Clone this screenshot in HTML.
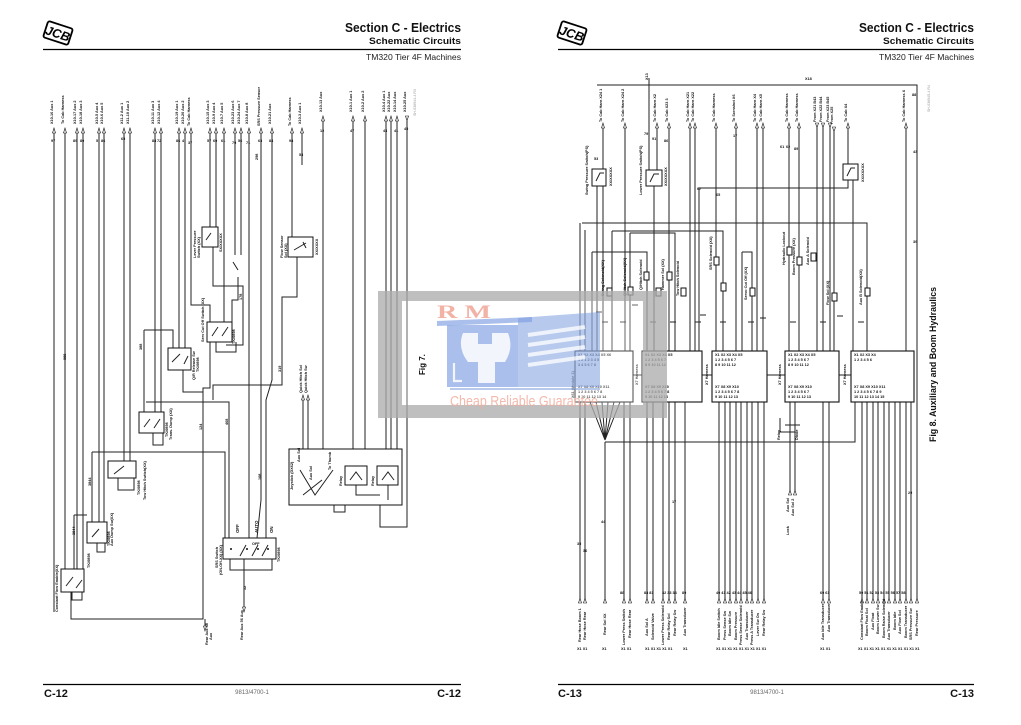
<!DOCTYPE html>
<html><head><meta charset="utf-8"><style>
html,body{margin:0;padding:0;background:#fff;}
svg{display:block;}
.t{font-family:"Liberation Sans",sans-serif;font-weight:bold;font-size:3.8px;fill:#111;}
.s{font-family:"Liberation Sans",sans-serif;font-weight:bold;font-size:4.4px;fill:#111;}
.ln{stroke:#222;stroke-width:1;fill:none;}
.bx{stroke:#111;stroke-width:1;fill:#fff;}
.ar{stroke:#111;stroke-width:0.6;fill:#fff;}
</style></head><body>
<svg width="1021" height="725" viewBox="0 0 1021 725" xmlns="http://www.w3.org/2000/svg">
<rect width="1021" height="725" fill="#fff"/>

<!-- ===== HEADERS ===== -->
<g transform="translate(58,33) rotate(18)">
<rect x="-13" y="-8.5" width="26" height="17" rx="2" fill="#fff" stroke="#000" stroke-width="1.8"/>
<text x="0" y="5" text-anchor="middle" font-family="Liberation Sans,sans-serif" font-weight="bold" font-style="italic" font-size="12.5" fill="#000">JCB</text>
</g>
<text x="461" y="32" text-anchor="end" font-family="Liberation Sans,sans-serif" font-weight="bold" font-size="13" textLength="116" lengthAdjust="spacingAndGlyphs" fill="#111">Section C - Electrics</text>
<text x="461" y="44" text-anchor="end" font-family="Liberation Sans,sans-serif" font-weight="bold" font-size="9.5" textLength="92" lengthAdjust="spacingAndGlyphs" fill="#111">Schematic Circuits</text>
<line x1="43" y1="49.5" x2="461" y2="49.5" stroke="#000" stroke-width="1.3"/>
<text x="461" y="60" text-anchor="end" font-family="Liberation Sans,sans-serif" font-size="8.2" textLength="95" lengthAdjust="spacingAndGlyphs" fill="#222">TM320 Tier 4F Machines</text>

<g transform="translate(572,33) rotate(18)">
<rect x="-13" y="-8.5" width="26" height="17" rx="2" fill="#fff" stroke="#000" stroke-width="1.8"/>
<text x="0" y="5" text-anchor="middle" font-family="Liberation Sans,sans-serif" font-weight="bold" font-style="italic" font-size="12.5" fill="#000">JCB</text>
</g>
<text x="974" y="32" text-anchor="end" font-family="Liberation Sans,sans-serif" font-weight="bold" font-size="13" textLength="115" lengthAdjust="spacingAndGlyphs" fill="#111">Section C - Electrics</text>
<text x="974" y="44" text-anchor="end" font-family="Liberation Sans,sans-serif" font-weight="bold" font-size="9.5" textLength="91" lengthAdjust="spacingAndGlyphs" fill="#111">Schematic Circuits</text>
<line x1="558" y1="49.5" x2="974" y2="49.5" stroke="#000" stroke-width="1.3"/>
<text x="974" y="60" text-anchor="end" font-family="Liberation Sans,sans-serif" font-size="8.2" textLength="95" lengthAdjust="spacingAndGlyphs" fill="#222">TM320 Tier 4F Machines</text>

<!-- ===== FOOTERS ===== -->
<line x1="43" y1="684.5" x2="461" y2="684.5" stroke="#000" stroke-width="1.2"/>
<text x="44" y="697" font-family="Liberation Sans,sans-serif" font-weight="bold" font-size="11" fill="#111">C-12</text>
<text x="461" y="697" text-anchor="end" font-family="Liberation Sans,sans-serif" font-weight="bold" font-size="11" fill="#111">C-12</text>
<text x="252" y="694" text-anchor="middle" font-family="Liberation Sans,sans-serif" font-size="6" fill="#666">9813/4700-1</text>

<line x1="558" y1="684.5" x2="974" y2="684.5" stroke="#000" stroke-width="1.2"/>
<text x="558" y="697" font-family="Liberation Sans,sans-serif" font-weight="bold" font-size="11" fill="#111">C-13</text>
<text x="974" y="697" text-anchor="end" font-family="Liberation Sans,sans-serif" font-weight="bold" font-size="11" fill="#111">C-13</text>
<text x="767" y="694" text-anchor="middle" font-family="Liberation Sans,sans-serif" font-size="6" fill="#666">9813/4700-1</text>

<!-- doc codes -->
<text transform="translate(416,116) rotate(-90)" font-family="Liberation Sans,sans-serif" font-size="3.6" fill="#999">SH-036944-4 R3</text>
<text transform="translate(930,112) rotate(-90)" font-family="Liberation Sans,sans-serif" font-size="3.6" fill="#999">SH-036945-4 R4</text>

<!-- ===== LEFT PAGE WIRING ===== -->
<path class="ln" d="
M54 133V612
M65 133V569
M77 133V569
M83 133V569
M99 133V522
M104 133V522
M124 133V461
M130 133V461
M155 133V412
M161 133V412
M179 133V348
M185 133V348
M191 133V305H210V388H203V619H71V592
M210 133V227
M216 133V227
M224 133V322
M235 133V255
M241 133V255
M249 133V538
M261 133V500L257 538
M272 133V380L266 400V538
M292 133V237
M302 133V165
M323 121V449
M353 121V449
M365 121V449
M386 121V449
M391 121V449
M397 121V449
M407 121V527H380V505
M297 257V297H282V385H213V400
M213 247V286H243V345H226
M238 277V300H232V322
M216 342V352H236V342
M183 370V392H203
M144 330H173V348
M144 330V412
M146 402H229V538
M92 452H225V538
M92 452V522
M74 515H87
M74 515V569
M153 433V445H163V433
M118 478V490H134V478
M97 543V552H105V543
M72 592V600H82V592
M230 559V570H272V559
M244 559V612
M205 619V630
M303 400V449
M308 400V449
M300 470L315 495L333 470
M303 495L322 480
M334 505V512H345V505
M356 485V495H380
M388 485V500
"/>
<!-- left page boxes -->
<rect class="bx" x="202" y="227" width="16" height="20"/>
<rect class="bx" x="288" y="237" width="25" height="20"/>
<rect class="bx" x="207" y="322" width="25" height="20"/>
<rect class="bx" x="168" y="348" width="23" height="22"/>
<rect class="bx" x="139" y="412" width="25" height="21"/>
<rect class="bx" x="108" y="461" width="28" height="17"/>
<rect class="bx" x="87" y="522" width="20" height="21"/>
<rect class="bx" x="61" y="569" width="23" height="23"/>
<rect class="bx" x="223" y="538" width="53" height="21"/>
<rect x="289" y="449" width="113" height="56" fill="none" stroke="#111" stroke-width="1"/>
<rect class="bx" x="345" y="466" width="22" height="19"/>
<rect class="bx" x="377" y="466" width="21" height="19"/>
<!-- switch symbols inside boxes -->
<path class="ln" d="M206 240L211 233M294 250L306 243M303 242L306 248M212 336L218 327M222 336L228 327M172 362L180 354M184 364L188 356M144 427L150 419M154 428L160 419M114 474L124 466M92 537L99 529M66 586L73 577M76 588L82 580M240 556L246 545M252 556L258 545M262 556L268 545M350 480L356 472L362 480M382 480L388 472L394 480M233 262L238 270"/>
<g fill="#111">
<circle cx="231" cy="549" r="1"/><circle cx="247" cy="549" r="1"/><circle cx="258" cy="549" r="1"/><circle cx="268" cy="549" r="1"/>
</g>
<text transform="translate(252,545)" class="t">OFF</text>
<text transform="translate(258,533) rotate(-90)" class="s">AUTO</text>
<text transform="translate(239,533) rotate(-90)" class="s">OFF</text>
<text transform="translate(273,533) rotate(-90)" class="s">ON</text>

<!-- left page top arrows -->
<g class="ar">
<path d="M52.5 133L54 128L55.5 133Z"/><path d="M63.5 133L65 128L66.5 133Z"/><path d="M75.5 133L77 128L78.5 133Z"/><path d="M81.5 133L83 128L84.5 133Z"/>
<path d="M97.5 133L99 128L100.5 133Z"/><path d="M102.5 133L104 128L105.5 133Z"/><path d="M122.5 133L124 128L125.5 133Z"/><path d="M128.5 133L130 128L131.5 133Z"/>
<path d="M153.5 133L155 128L156.5 133Z"/><path d="M159.5 133L161 128L162.5 133Z"/><path d="M177.5 133L179 128L180.5 133Z"/><path d="M183.5 133L185 128L186.5 133Z"/>
<path d="M189.5 133L191 128L192.5 133Z"/><path d="M208.5 133L210 128L211.5 133Z"/><path d="M214.5 133L216 128L217.5 133Z"/><path d="M222.5 133L224 128L225.5 133Z"/>
<path d="M233.5 133L235 128L236.5 133Z"/><path d="M239.5 133L241 128L242.5 133Z"/><path d="M247.5 133L249 128L250.5 133Z"/><path d="M259.5 133L261 128L262.5 133Z"/>
<path d="M270.5 133L272 128L273.5 133Z"/><path d="M290.5 133L292 128L293.5 133Z"/><path d="M300.5 133L302 128L303.5 133Z"/>
<path d="M321.5 121L323 116L324.5 121Z"/><path d="M351.5 121L353 116L354.5 121Z"/><path d="M363.5 121L365 116L366.5 121Z"/>
<path d="M384.5 121L386 116L387.5 121Z"/><path d="M389.5 121L391 116L392.5 121Z"/><path d="M395.5 121L397 116L398.5 121Z"/><path d="M405.5 116L407 121L408.5 116Z"/>
<path d="M301.5 400L303 395L304.5 400Z"/><path d="M306.5 400L308 395L309.5 400Z"/>
<path d="M203.5 626L205 631L206.5 626Z"/><path d="M242.5 607L244 612L245.5 607Z"/>
</g>
<!-- left page top labels -->
<g class="t">
<text transform="translate(53,124) rotate(-90)">X10-16 Aux 1</text>
<text transform="translate(64,124) rotate(-90)">To Cab Harness</text>
<text transform="translate(76,124) rotate(-90)">X10-17 Aux 2</text>
<text transform="translate(82,124) rotate(-90)">X10-18 Aux 3</text>
<text transform="translate(98,124) rotate(-90)">X10-5 Aux 4</text>
<text transform="translate(103,124) rotate(-90)">X10-6 Aux 5</text>
<text transform="translate(123,124) rotate(-90)">X11-2 Aux 1</text>
<text transform="translate(129,124) rotate(-90)">X11-10 Aux 2</text>
<text transform="translate(154,124) rotate(-90)">X10-11 Aux 3</text>
<text transform="translate(160,124) rotate(-90)">X10-12 Aux 4</text>
<text transform="translate(178,124) rotate(-90)">X10-19 Aux 1</text>
<text transform="translate(184,124) rotate(-90)">X10-20 Aux 2</text>
<text transform="translate(190,126) rotate(-90)">To Cab Harness</text>
<text transform="translate(209,124) rotate(-90)">X10-15 Aux 3</text>
<text transform="translate(215,124) rotate(-90)">X10-9 Aux 4</text>
<text transform="translate(223,124) rotate(-90)">X10-7 Aux 5</text>
<text transform="translate(234,124) rotate(-90)">X10-23 Aux 6</text>
<text transform="translate(240,124) rotate(-90)">X10-24 Aux 7</text>
<text transform="translate(248,124) rotate(-90)">X10-8 Aux 8</text>
<text transform="translate(260,126) rotate(-90)">SRS Pressure Sensor</text>
<text transform="translate(271,124) rotate(-90)">X10-21 Aux</text>
<text transform="translate(291,126) rotate(-90)">To Cab Harness</text>
<text transform="translate(301,124) rotate(-90)">X10-3 Aux 1</text>
<text transform="translate(322,112) rotate(-90)">X10-13 Aux</text>
<text transform="translate(352,112) rotate(-90)">X10-1 Aux 1</text>
<text transform="translate(364,112) rotate(-90)">X10-2 Aux 2</text>
<text transform="translate(385,112) rotate(-90)">X10-4 Aux 1</text>
<text transform="translate(390,112) rotate(-90)">X10-22 Aux</text>
<text transform="translate(396,112) rotate(-90)">X10-14 Aux</text>
<text transform="translate(406,112) rotate(-90)">X10-25 Aux</text>
<text transform="translate(302,393) rotate(-90)">Quick Hitch Sol</text>
<text transform="translate(307,393) rotate(-90)">Quick Hitch Sw</text>
<text transform="translate(208,645) rotate(-90)">Rear Aux 48</text>
<text transform="translate(212,640) rotate(-90)">Aux</text>
<text transform="translate(243,640) rotate(-90)">Rear Aux 56 Aux</text>
</g>
<!-- left page wire numbers -->
<g class="t">
<text x="51" y="142">97</text><text x="73" y="142">89</text><text x="80" y="142">80</text><text x="96" y="142">5</text><text x="101" y="142">86</text>
<text x="121" y="140">65</text><text x="152" y="142">88</text><text x="157" y="142">72</text><text x="176" y="142">86</text><text x="182" y="142">4</text><text x="188" y="144">37</text>
<text x="207" y="142">57</text><text x="213" y="142">60</text><text x="221" y="142">61</text><text x="232" y="144">79</text><text x="238" y="142">56</text><text x="246" y="144">71</text><text x="258" y="142">63</text>
<text x="269" y="142">84</text><text x="289" y="142">98</text><text x="299" y="156">53</text><text x="320" y="132">12</text><text x="350" y="132">47</text><text x="383" y="132">43</text><text x="394" y="132">41</text><text x="404" y="130">45</text>
</g>
<g class="t">
<text transform="translate(66,360) rotate(-90)">988</text>
<text transform="translate(142,350) rotate(-90)">388</text>
<text transform="translate(242,300) rotate(-90)">178</text>
<text transform="translate(281,372) rotate(-90)">319</text>
<text transform="translate(258,160) rotate(-90)">298</text>
<text transform="translate(202,430) rotate(-90)">124</text>
<text transform="translate(228,425) rotate(-90)">468</text>
<text transform="translate(261,480) rotate(-90)">108</text>
<text transform="translate(246,590) rotate(-90)">52</text>
<text transform="translate(91,486) rotate(-90)">3844</text>
<text transform="translate(75,535) rotate(-90)">3844</text>
</g>
<!-- component labels -->
<g class="t">
<text transform="translate(58,612) rotate(-90)">Constant Flow Enable(XX)</text>
<text transform="translate(90,568) rotate(-90)">TK/0898</text>
<text transform="translate(113,546) rotate(-90)">Aux Dump Sw(XX)</text>
<text transform="translate(110,546) rotate(-90)">TK/0898</text>
<text transform="translate(140,495) rotate(-90)">TK/0898</text>
<text transform="translate(146,500) rotate(-90)">Tow Hitch Switch(XX)</text>
<text transform="translate(168,437) rotate(-90)">TK/0898</text>
<text transform="translate(172,440) rotate(-90)">Trans. Dump (XX)</text>
<text transform="translate(195,380) rotate(-90)">Q/R Release Sw</text>
<text transform="translate(199,372) rotate(-90)">TK/0898</text>
<text transform="translate(204,342) rotate(-90)">Serv Cut Off Switch (XX)</text>
<text transform="translate(235,344) rotate(-90)">TK/0898</text>
<text transform="translate(196,258) rotate(-90)">Lever Pressure</text>
<text transform="translate(200,258) rotate(-90)">Switch (XX)</text>
<text transform="translate(222,252) rotate(-90)">SX/XXXXX</text>
<text transform="translate(283,258) rotate(-90)">Flow Sensor</text>
<text transform="translate(287,258) rotate(-90)">Sol (XX)</text>
<text transform="translate(318,255) rotate(-90)">XX/XXXX</text>
<text transform="translate(218,568) rotate(-90)">SRS Switch</text>
<text transform="translate(222,575) rotate(-90)">(ON-Off-XX) (XX)</text>
<text transform="translate(280,562) rotate(-90)">TK/0898</text>
<text transform="translate(293,490) rotate(-90)">Joystick (DX62)</text>
<text transform="translate(300,462) rotate(-90)">Aux Sol</text>
<text transform="translate(312,480) rotate(-90)">Aux Sol</text>
<text transform="translate(331,470) rotate(-90)">To Thumb</text>
<text transform="translate(342,486) rotate(-90)">Relay</text>
<text transform="translate(374,486) rotate(-90)">Relay</text>
</g>

<!-- ===== RIGHT PAGE WIRING ===== -->
<path class="ln" d="
M597 85H917V603
M649 78V170
M603 128V169
M597 186V351 M603 186V351
M625 128V351
M657 128V170
M654 186V351
M669 128V351
M690 128V351 M695 128V351
M716 128V351 M736 128V351
M757 128V351 M763 128V351
M789 128V351 M799 128V351
M817 128V351 M823 128V351 M830 128V351 M834 132V351
M848 128V164 M848 180V188H699V351
M853 180V351
M906 128V351
M582 223H867V351
M580 223V603 M585 230V603
M612 231H723V351 M612 231V351
M630 233H675V351 M630 233V351
M592 252H647V351 M592 252V351
M742 252H752V351 M742 252V351
M590 402L605 440 M596 402L605 440 M602 402L605 440 M608 402L605 440 M614 402L605 440 M620 402L605 440
M605 442H855V402
M624 402V603 M630 402V603
M647 402V603 M653 402V603 M663 402V603 M669 402V603 M675 402V603 M685 402V603
M719 402V603 M725 402V603 M730 402V603 M736 402V603 M741 402V603 M747 402V603 M752 402V603 M758 402V603 M764 402V603
M790 402V495 M795 402V495
M823 402V603 M829 402V603
M862 402V603 M867 402V603 M873 402V603 M878 402V603 M884 402V603 M889 402V603 M895 402V603 M900 402V603 M906 402V603 M911 402V603
M633 375H642 M702 375H712 M767 375H785 M839 375H851
M780 418V432H795 M785 425H800
M605 442V598
"/>
<!-- right page sensors -->
<rect class="bx" x="592" y="169" width="14" height="17"/>
<rect class="bx" x="646" y="170" width="16" height="16"/>
<rect class="bx" x="843" y="164" width="15" height="16"/>
<path class="ln" d="M596 181L600 173H604M650 182L654 174H659M847 176L851 168H855"/>
<!-- solenoids -->
<g class="bx">
<rect x="607" y="288" width="5" height="8"/><rect x="628" y="287" width="5" height="8"/><rect x="644" y="272" width="5" height="8"/>
<rect x="656" y="288" width="5" height="8"/><rect x="667" y="272" width="5" height="8"/><rect x="681" y="288" width="5" height="8"/>
<rect x="714" y="257" width="5" height="8"/><rect x="721" y="283" width="5" height="8"/><rect x="750" y="288" width="5" height="8"/>
<rect x="787" y="247" width="5" height="8"/><rect x="797" y="257" width="5" height="8"/><rect x="811" y="253" width="5" height="8"/>
<rect x="832" y="293" width="5" height="8"/><rect x="865" y="288" width="5" height="8"/>
</g>
<path class="ln" d="M602 322H608M620 322H626M650 322H656M670 322H676M695 322H701M720 322H726M748 322H754M790 322H796M820 322H826M858 322H864M596 312H602M632 305H638M700 315H706M760 318H766M837 316H843"/>
<!-- modules -->
<g fill="#fff" stroke="#111" stroke-width="1.1">
<rect x="575" y="351" width="58" height="51"/>
<rect x="642" y="351" width="60" height="51"/>
<rect x="712" y="351" width="55" height="51"/>
<rect x="785" y="351" width="54" height="51"/>
<rect x="851" y="351" width="63" height="51"/>
</g>
<g class="t">
<text x="578" y="356">X1 X2  X3 X4 X5 X6</text><text x="578" y="361">1 2   1 2 3 4 5</text><text x="578" y="366">3 4   5 6 7 8</text>
<text x="578" y="388">X7 X8 X9 X10 X11</text><text x="578" y="393">1 2 3 4 5 6 7 8</text><text x="578" y="398">9 10 11 12 13 14</text>
<text x="645" y="356">X1 X2 X3 X4 X5</text><text x="645" y="361">1 2 3 4 5 6 7</text><text x="645" y="366">8 9 10 11 12</text>
<text x="645" y="388">X7 X8 X9 X10</text><text x="645" y="393">1 2 3 4 5 6 7 8</text><text x="645" y="398">9 10 11 12 13</text>
<text x="715" y="356">X1 X2 X3 X4 X5</text><text x="715" y="361">1 2 3 4 5 6 7</text><text x="715" y="366">8 9 10 11 12</text>
<text x="715" y="388">X7 X8 X9 X10</text><text x="715" y="393">1 2 3 4 5 6 7 8</text><text x="715" y="398">9 10 11 12 13</text>
<text x="788" y="356">X1 X2 X3 X4 X5</text><text x="788" y="361">1 2 3 4 5 6 7</text><text x="788" y="366">8 9 10 11 12</text>
<text x="788" y="388">X7 X8 X9 X10</text><text x="788" y="393">1 2 3 4 5 6 7</text><text x="788" y="398">9 10 11 12 13</text>
<text x="854" y="356">X1  X2  X3  X4</text><text x="854" y="361">1 2 3 4 5 6</text>
<text x="854" y="388">X7 X8 X9 X10 X11</text><text x="854" y="393">1 2 3 4 5 6 7 8 9</text><text x="854" y="398">10 11 12 13 14 15</text>
</g>
<g class="t">
<text transform="translate(574,398) rotate(-90)">X61 (Module 1)</text>
<text transform="translate(638,385) rotate(-90)">X7 Harness</text>
<text transform="translate(708,385) rotate(-90)">X7 Harness</text>
<text transform="translate(781,385) rotate(-90)">X7 Harness</text>
<text transform="translate(846,385) rotate(-90)">X7 Harness</text>
<text transform="translate(780,440) rotate(-90)">Relay</text>
<text transform="translate(798,440) rotate(-90)">Diode</text>
</g>
<!-- right page top arrows -->
<g class="ar">
<path d="M601.5 128L603 123L604.5 128Z"/><path d="M623.5 128L625 123L626.5 128Z"/><path d="M655.5 128L657 123L658.5 128Z"/><path d="M667.5 128L669 123L670.5 128Z"/>
<path d="M688.5 128L690 123L691.5 128Z"/><path d="M693.5 128L695 123L696.5 128Z"/><path d="M714.5 128L716 123L717.5 128Z"/><path d="M734.5 128L736 123L737.5 128Z"/>
<path d="M755.5 128L757 123L758.5 128Z"/><path d="M761.5 128L763 123L764.5 128Z"/><path d="M787.5 128L789 123L790.5 128Z"/><path d="M797.5 128L799 123L800.5 128Z"/>
<path d="M815.5 123L817 128L818.5 123Z"/><path d="M821.5 123L823 128L824.5 123Z"/><path d="M828.5 123L830 128L831.5 123Z"/><path d="M832.5 127L834 132L835.5 127Z"/>
<path d="M846.5 128L848 123L849.5 128Z"/><path d="M904.5 128L906 123L907.5 128Z"/>
</g>
<g class="t">
<text transform="translate(602,122) rotate(-90)">To Cab Harn X24 1</text>
<text transform="translate(624,122) rotate(-90)">To Cab Harn X24 2</text>
<text transform="translate(656,122) rotate(-90)">To Cab Harn X2</text>
<text transform="translate(668,122) rotate(-90)">To Cab X23 3</text>
<text transform="translate(689,122) rotate(-90)">To Cab Harn X21</text>
<text transform="translate(694,122) rotate(-90)">To Cab Harn X22</text>
<text transform="translate(715,122) rotate(-90)">To Cab Harness</text>
<text transform="translate(735,122) rotate(-90)">To Scrnshot X6</text>
<text transform="translate(756,122) rotate(-90)">To Cab Harn X4</text>
<text transform="translate(762,122) rotate(-90)">To Cab Harn X5</text>
<text transform="translate(788,122) rotate(-90)">To Cab Harness</text>
<text transform="translate(798,122) rotate(-90)">To Cab Harness</text>
<text transform="translate(816,122) rotate(-90)">From X21 B43</text>
<text transform="translate(822,122) rotate(-90)">From X22 B44</text>
<text transform="translate(829,122) rotate(-90)">From X23 B45</text>
<text transform="translate(833,124) rotate(-90)">From X25</text>
<text transform="translate(847,122) rotate(-90)">To Cab X4</text>
<text transform="translate(905,122) rotate(-90)">To Cab Harness X</text>
<text transform="translate(648,80) rotate(-90)">X13</text>
</g>
<g class="t">
<text x="594" y="160">53</text><text x="644" y="135">79</text><text x="652" y="140">91</text><text x="664" y="142">86</text><text x="733" y="137">17</text>
<text x="780" y="148">61</text><text x="786" y="148">62</text><text x="794" y="150">89</text><text x="913" y="153">43</text><text x="913" y="243">39</text>
<text x="805" y="80">X18</text><text x="697" y="190">67</text><text x="716" y="196">65</text><text x="912" y="96">88</text>
</g>
<g class="t">
<text transform="translate(604,296) rotate(-90)">Swing Solenoid(XX)</text>
<text transform="translate(626,296) rotate(-90)">Q/Hitch Solenoid(XX)</text>
<text transform="translate(642,290) rotate(-90)">Q/Hitch Solenoid</text>
<text transform="translate(664,290) rotate(-90)">Hammer Sol (XX)</text>
<text transform="translate(679,296) rotate(-90)">Tow Hitch Solenoid</text>
<text transform="translate(712,270) rotate(-90)">SRS Solenoid (XX)</text>
<text transform="translate(747,300) rotate(-90)">Servo Cut Off (XX)</text>
<text transform="translate(785,265) rotate(-90)">Hydraulic Lockout</text>
<text transform="translate(795,275) rotate(-90)">Boom Pressure (XX)</text>
<text transform="translate(809,265) rotate(-90)">Aux A Solenoid</text>
<text transform="translate(829,305) rotate(-90)">Flow Sol (XX)</text>
<text transform="translate(862,305) rotate(-90)">Aux B Solenoid(XX)</text>
<text transform="translate(588,195) rotate(-90)">Swing Pressure Switch(PS)</text>
<text transform="translate(642,195) rotate(-90)">Lower Pressure Switch(PS)</text>
<text transform="translate(612,186) rotate(-90)">XX/XXXXX</text>
<text transform="translate(667,186) rotate(-90)">XX/XXXXX</text>
<text transform="translate(864,182) rotate(-90)">XX/XXXXX</text>
</g>
<!-- right bottom arrows -->
<g class="ar">
<path d="M578.5 603L580 598L581.5 603Z"/><path d="M583.5 603L585 598L586.5 603Z"/><path d="M603.5 603L605 598L606.5 603Z"/>
<path d="M622.5 603L624 598L625.5 603Z"/><path d="M628.5 603L630 598L631.5 603Z"/>
<path d="M645.5 603L647 598L648.5 603Z"/><path d="M651.5 603L653 598L654.5 603Z"/><path d="M661.5 603L663 598L664.5 603Z"/><path d="M667.5 603L669 598L670.5 603Z"/><path d="M673.5 603L675 598L676.5 603Z"/><path d="M683.5 603L685 598L686.5 603Z"/>
<path d="M717.5 603L719 598L720.5 603Z"/><path d="M723.5 603L725 598L726.5 603Z"/><path d="M728.5 603L730 598L731.5 603Z"/><path d="M734.5 603L736 598L737.5 603Z"/><path d="M739.5 603L741 598L742.5 603Z"/><path d="M745.5 603L747 598L748.5 603Z"/><path d="M750.5 603L752 598L753.5 603Z"/><path d="M756.5 603L758 598L759.5 603Z"/><path d="M762.5 603L764 598L765.5 603Z"/>
<path d="M788.5 495L790 490L791.5 495Z"/><path d="M793.5 495L795 490L796.5 495Z"/>
<path d="M821.5 603L823 598L824.5 603Z"/><path d="M827.5 603L829 598L830.5 603Z"/>
<path d="M860.5 603L862 598L863.5 603Z"/><path d="M865.5 603L867 598L868.5 603Z"/><path d="M871.5 603L873 598L874.5 603Z"/><path d="M876.5 603L878 598L879.5 603Z"/><path d="M882.5 603L884 598L885.5 603Z"/><path d="M887.5 603L889 598L890.5 603Z"/><path d="M893.5 603L895 598L896.5 603Z"/><path d="M898.5 603L900 598L901.5 603Z"/><path d="M904.5 603L906 598L907.5 603Z"/><path d="M909.5 603L911 598L912.5 603Z"/><path d="M915.5 603L917 598L918.5 603Z"/>
</g>
<g class="t">
<text transform="translate(581,642) rotate(-90)">Rear Hose Boom 1</text>
<text transform="translate(586,640) rotate(-90)">Rear Hose Rear</text>
<text transform="translate(606,635) rotate(-90)">Rear Sol XX</text>
<text transform="translate(625,645) rotate(-90)">Lower Press Switch</text>
<text transform="translate(631,638) rotate(-90)">Rear Hose Rear</text>
<text transform="translate(648,636) rotate(-90)">Aux Sol A</text>
<text transform="translate(654,640) rotate(-90)">Solenoid Valve</text>
<text transform="translate(664,645) rotate(-90)">Lower Press Solenoid</text>
<text transform="translate(670,640) rotate(-90)">Rear Relay Sol</text>
<text transform="translate(676,636) rotate(-90)">Rear Relay Sw</text>
<text transform="translate(686,636) rotate(-90)">Aux Transducer</text>
<text transform="translate(720,640) rotate(-90)">Boom Idle Switch</text>
<text transform="translate(726,640) rotate(-90)">Press Sense Sw</text>
<text transform="translate(731,636) rotate(-90)">Boom Idle Sw</text>
<text transform="translate(737,640) rotate(-90)">Boom Pressure</text>
<text transform="translate(742,645) rotate(-90)">Press Sense Solenoid</text>
<text transform="translate(748,640) rotate(-90)">Aux Transducer</text>
<text transform="translate(753,645) rotate(-90)">Press A Transducer</text>
<text transform="translate(759,636) rotate(-90)">Lever Sw On</text>
<text transform="translate(765,636) rotate(-90)">Rear Relay Sw</text>
<text transform="translate(824,640) rotate(-90)">Aux Idle Transducer</text>
<text transform="translate(830,632) rotate(-90)">Aux Transducer</text>
<text transform="translate(863,640) rotate(-90)">Constant Flow Enable</text>
<text transform="translate(868,636) rotate(-90)">Boom Float Sol</text>
<text transform="translate(874,630) rotate(-90)">Aux Float</text>
<text transform="translate(879,634) rotate(-90)">Boom Lower Sw</text>
<text transform="translate(885,638) rotate(-90)">Boom Raise Solenoid</text>
<text transform="translate(890,640) rotate(-90)">Aux Transducer</text>
<text transform="translate(896,630) rotate(-90)">Boom Idle</text>
<text transform="translate(901,634) rotate(-90)">Aux Flow Sol</text>
<text transform="translate(907,638) rotate(-90)">Boom Transducer</text>
<text transform="translate(912,640) rotate(-90)">SRS Pressure Sw</text>
<text transform="translate(918,636) rotate(-90)">Rear Pressure</text>
<text transform="translate(789,512) rotate(-90)">Aux Sol</text>
<text transform="translate(794,516) rotate(-90)">Aux Sol 2</text>
<text transform="translate(789,535) rotate(-90)">Lock</text>
</g>
<g class="t">
<text x="577" y="650">X1 X1</text><text x="602" y="650">X1</text><text x="621" y="650">X1 X1</text><text x="645" y="650">X1 X1 X1 X1 X1</text><text x="683" y="650">X1</text>
<text x="716" y="650">X1 X1 X1 X1 X1 X1 X1 X1 X1</text><text x="820" y="650">X1 X1</text><text x="858" y="650">X1 X1 X1 X1 X1 X1 X1 X1 X1 X1 X1</text>
<text x="620" y="594">88</text><text x="644" y="594">88 81</text><text x="662" y="594">32 33 34</text><text x="682" y="594">89</text>
<text x="716" y="594">40 41 42 43 44 45 46</text><text x="820" y="594">60 61</text><text x="859" y="594">50 51 52 53 54 55 56 57 58</text>
<text x="577" y="545">35</text><text x="583" y="552">36</text><text x="601" y="523">44</text><text x="672" y="503">17</text><text x="908" y="494">29</text>
</g>

<text transform="translate(936,442) rotate(-90)" font-family="Liberation Sans,sans-serif" font-weight="bold" font-size="9.2" textLength="155" lengthAdjust="spacingAndGlyphs" fill="#111">Fig 8. Auxiliary and Boom Hydraulics</text>

<!-- ===== WATERMARK ===== -->
<g>
<path d="M378 291H667V418H378Z M402 301V405H643V301Z" fill="#adadad" fill-opacity="0.78" fill-rule="evenodd"/>
<rect x="402" y="301" width="241" height="104" fill="#fff" fill-opacity="0.3"/>
<text x="437" y="318" font-family="Liberation Serif,serif" font-weight="bold" font-size="19" fill="#f0a595" fill-opacity="0.85" textLength="54" lengthAdjust="spacingAndGlyphs">R M</text>
<polygon points="437,321 532,317 532,322 437,326" fill="#7d9ce0" fill-opacity="0.65"/>
<rect x="447" y="325" width="71" height="62" fill="#7d9ce0" fill-opacity="0.65"/>
<polygon points="518,318 600,312 600,387 518,387" fill="#7d9ce0" fill-opacity="0.55"/>
<path d="M463 333H478V344H492V333H508Q514 348 505 362H495V383H478V362H468Q457 348 463 333Z" fill="#fff" fill-opacity="0.85"/>
<path d="M454 363V381H462" stroke="#fff" stroke-width="2.2" fill="none" stroke-opacity="0.85"/>
<path d="M528 335L585 327M528 345L585 337M528 355L585 347M528 365L585 357" stroke="#fff" stroke-width="4" stroke-opacity="0.75"/>
<rect x="450" y="388" width="150" height="2" fill="#7d9ce0" fill-opacity="0.55"/>
<text x="450" y="406" font-family="Liberation Sans,sans-serif" font-size="15" fill="#f2ad9d" fill-opacity="0.85" textLength="148" lengthAdjust="spacingAndGlyphs">Cheap Reliable Guarantee</text>
</g>
<text transform="translate(425,375) rotate(-90)" font-family="Liberation Sans,sans-serif" font-weight="bold" font-size="8" fill="#111">Fig 7.</text>
</svg>
</body></html>
